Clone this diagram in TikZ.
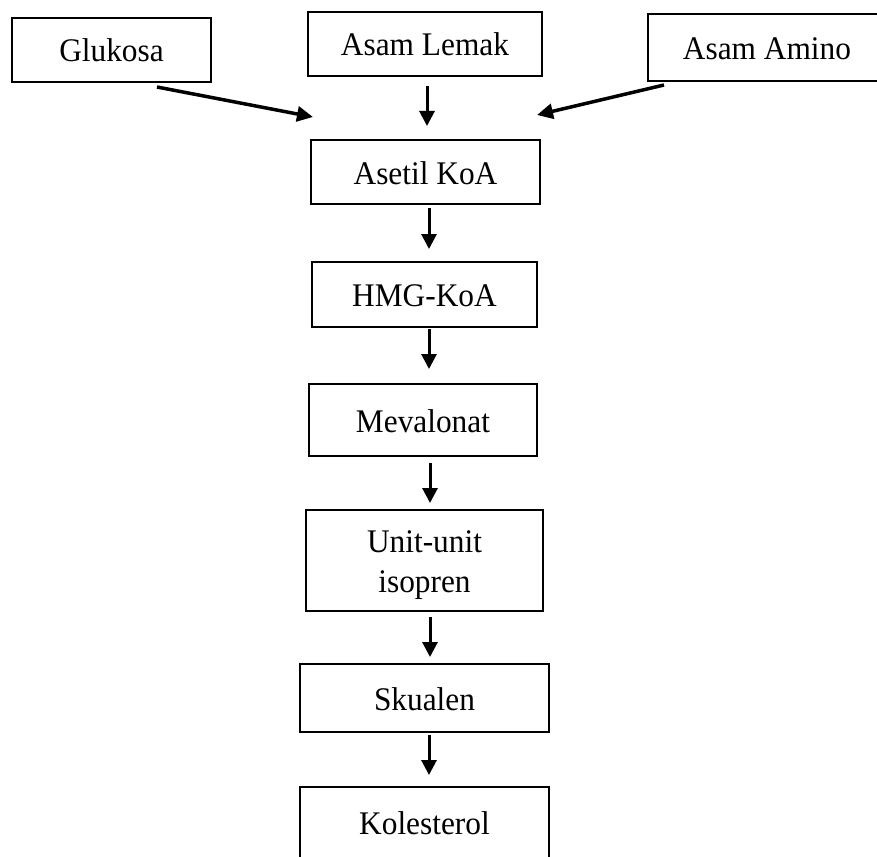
\documentclass[tikz,border=0pt]{standalone}
\usepackage{fontspec}
\setmainfont{Liberation Serif}
\usetikzlibrary{arrows.meta}

% slightly condensed label text, set a little low in its box
\newcommand{\boxtext}[1]{\raisebox{-4pt}[\height][\depth]{\scalebox{0.95}[1]{\begin{tabular}{@{}c@{}}#1\end{tabular}}}}

\tikzset{
  box/.style={draw=black, line width=2pt, inner sep=0pt, anchor=center,
    font=\fontsize{33}{40}\selectfont},
  flow/.style={line width=3pt, -{Triangle[length=15pt,width=15pt]}},
  slant/.style={line width=3.5pt, -{Triangle[length=16pt,width=15pt]}}
}

\begin{document}
\begin{tikzpicture}[x=1pt, y=-1pt]
  \useasboundingbox (0,0) rectangle (877,856);

  % sources
  \node[box, minimum width=199, minimum height=64] (glu) at (111.5,50) {\boxtext{Glukosa}};
  \node[box, minimum width=234, minimum height=64] (lemak) at (425,44) {\boxtext{Asam Lemak}};
  \node[box, minimum width=238, minimum height=67] (amino) at (767,47.5) {\boxtext{Asam Amino}};

  % pathway
  \node[box, minimum width=229, minimum height=64] (asetil) at (425.5,172) {\boxtext{Asetil KoA}};
  \node[box, minimum width=225, minimum height=65] (hmg) at (424.5,294.5) {\boxtext{HMG-KoA}};
  \node[box, minimum width=228, minimum height=72] (mev) at (423,420) {\boxtext{Mevalonat}};
  \node[box, minimum width=237, minimum height=101] (iso) at (424.5,560.5) {\boxtext{Unit-unit\\isopren}};
  \node[box, minimum width=249, minimum height=68] (sku) at (424.5,698) {\boxtext{Skualen}};
  \node[box, minimum width=249, text height=42pt, text depth=40pt, anchor=north]
    (kol) at (424.5,786) {\boxtext{Kolesterol}};

  % arrow end points
  \coordinate (g1) at (157,87);   \coordinate (g2) at (313,117);
  \coordinate (l1) at (427,86);   \coordinate (l2) at (427,126);
  \coordinate (m1) at (664,85);   \coordinate (m2) at (537,115);
  \coordinate (a1) at (429,208);  \coordinate (a2) at (429,249);
  \coordinate (h1) at (429,329);  \coordinate (h2) at (429,369);
  \coordinate (v1) at (430,463);  \coordinate (v2) at (430,503);
  \coordinate (i1) at (430,617);  \coordinate (i2) at (430,657);
  \coordinate (s1) at (429,735);  \coordinate (s2) at (429,775);

  % connectors
  \draw[slant] (g1) -- (g2);
  \draw[flow]  (l1) -- (l2);
  \draw[slant] (m1) -- (m2);
  \draw[flow]  (a1) -- (a2);
  \draw[flow]  (h1) -- (h2);
  \draw[flow]  (v1) -- (v2);
  \draw[flow]  (i1) -- (i2);
  \draw[flow]  (s1) -- (s2);
\end{tikzpicture}
\end{document}
